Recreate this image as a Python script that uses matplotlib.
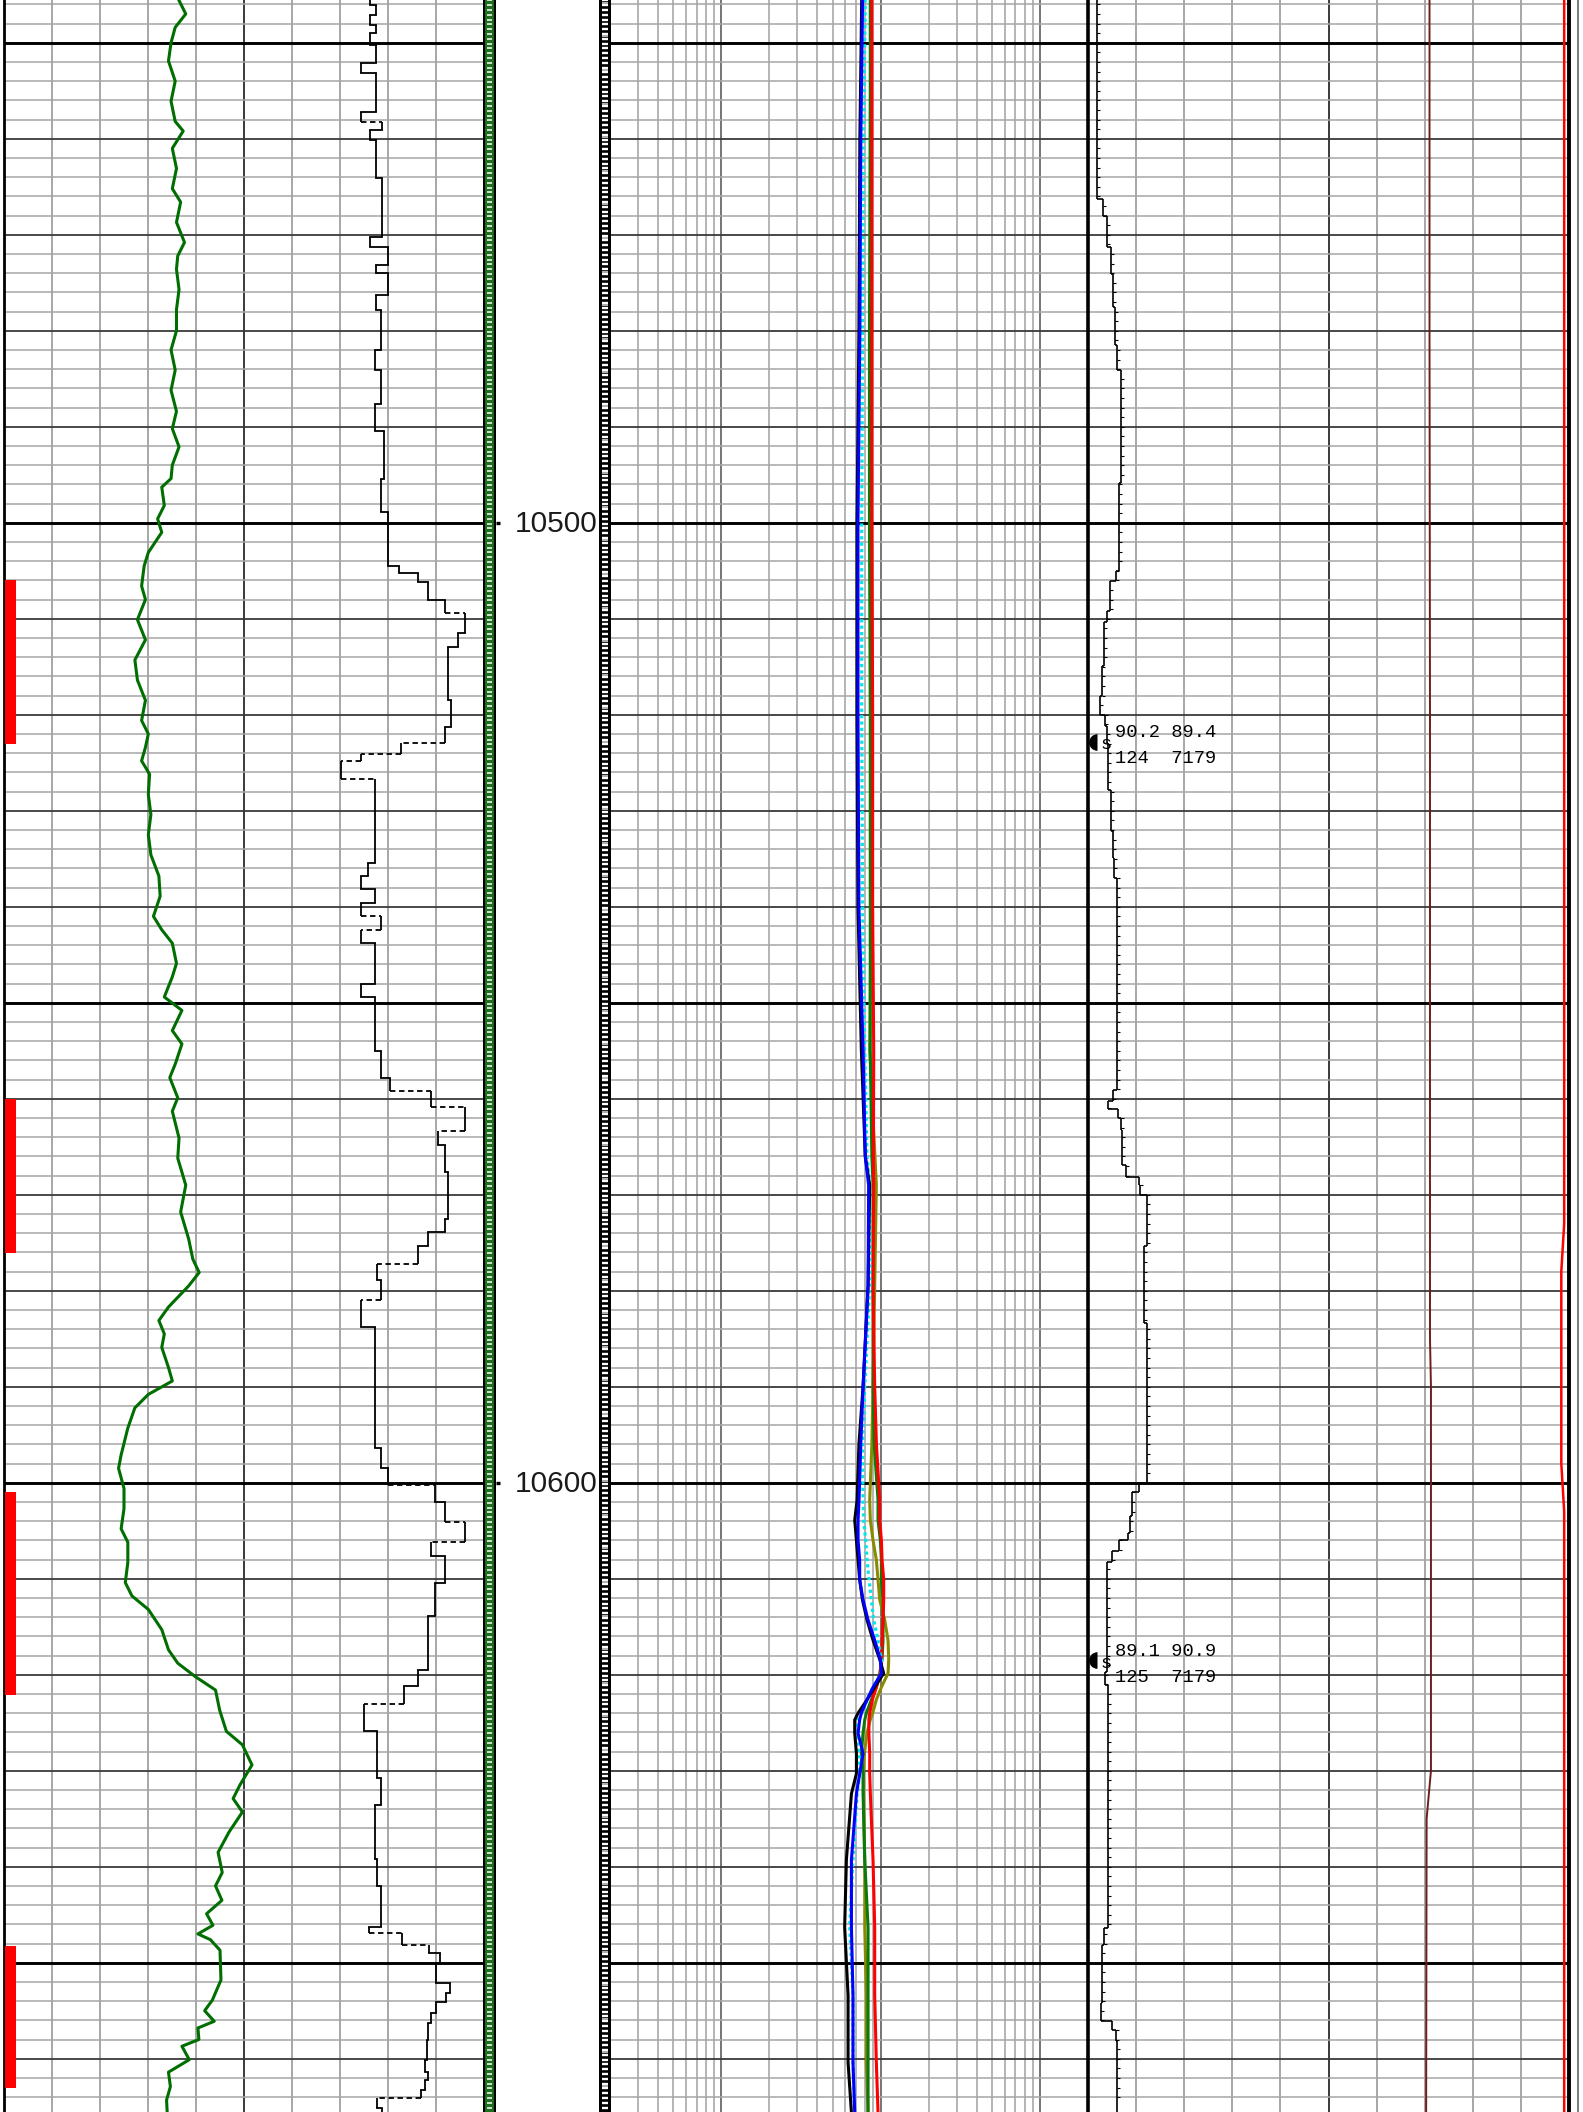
import numpy as np
import matplotlib
matplotlib.use("Agg")
import matplotlib.pyplot as plt
from matplotlib.collections import LineCollection
from matplotlib.lines import TICKRIGHT

# ---------------------------------------------------------------- data
TOP_DEPTH, BASE_DEPTH = 10445.55, 10665.55

# Track 1: gamma ray (API, scale 0-150)
gr_depth = [10445.6, 10447.0, 10448.4, 10450.0, 10451.9, 10454.0, 10456.1, 10458.2,
            10459.2, 10461.0, 10463.1, 10465.2, 10466.6, 10468.7, 10470.8, 10472.2,
            10473.6, 10475.7, 10477.8, 10480.0, 10482.0, 10484.1, 10486.2, 10488.4,
            10490.2, 10492.1, 10494.0, 10495.4, 10496.3, 10498.2, 10499.6, 10501.0,
            10503.1, 10504.5, 10506.6, 10508.0, 10510.1, 10512.2, 10514.3, 10516.4,
            10518.5, 10520.6, 10522.0, 10523.4, 10524.8, 10526.2, 10528.3, 10530.4,
            10532.5, 10534.6, 10536.8, 10538.9, 10541.0, 10542.4, 10543.8, 10545.9,
            10547.3, 10549.4, 10550.8, 10552.9, 10554.3, 10556.4, 10557.8, 10559.9,
            10561.3, 10564.1, 10566.2, 10569.0, 10571.8, 10574.6, 10576.7, 10578.1,
            10579.5, 10581.7, 10583.1, 10584.5, 10585.9, 10588.0, 10589.4, 10590.8,
            10592.2, 10594.3, 10597.1, 10598.5, 10600.6, 10602.7, 10604.8, 10606.2,
            10608.3, 10610.4, 10611.8, 10613.2, 10615.3, 10617.4, 10618.8, 10620.2,
            10621.6, 10623.7, 10625.9, 10627.3, 10629.4, 10631.5, 10632.9, 10634.3,
            10636.4, 10638.5, 10640.6, 10642.0, 10643.5, 10644.9, 10646.1, 10647.0,
            10647.6, 10648.7, 10651.8, 10653.9, 10655.0, 10656.1, 10656.8, 10658.0,
            10658.7, 10660.1, 10661.4, 10662.9, 10664.3, 10665.6]
gr_api = [54.7, 56.8, 53.5, 52.2, 51.4, 53.5, 52.2, 53.5,
          56.0, 52.6, 53.9, 52.6, 55.2, 53.9, 56.4, 54.3,
          53.9, 54.7, 53.9, 53.9, 52.2, 53.5, 52.2, 53.9,
          52.6, 54.7, 52.6, 52.2, 49.3, 50.1, 48.0, 49.3,
          45.1, 43.8, 43.0, 44.2, 41.7, 44.2, 40.9, 41.7,
          44.2, 43.0, 45.1, 44.2, 43.0, 45.5, 45.1, 45.9,
          45.1, 45.9, 48.4, 48.8, 46.7, 49.3, 52.6, 53.9,
          52.6, 50.1, 55.6, 52.6, 55.6, 53.5, 51.8, 54.3,
          52.6, 54.7, 54.3, 56.8, 55.2, 57.7, 59.0, 61.0,
          57.7, 51.4, 48.4, 50.1, 49.3, 51.4, 52.6, 45.1,
          40.9, 38.7, 36.6, 35.8, 37.5, 37.5, 36.6, 38.7,
          38.7, 37.9, 40.0, 45.1, 49.3, 51.4, 54.3, 59.8,
          66.1, 67.4, 69.5, 74.5, 77.5, 73.7, 71.6, 74.5,
          70.3, 66.9, 68.2, 66.1, 68.1, 63.3, 65.3, 60.6,
          64.5, 67.5, 67.8, 65.1, 62.7, 65.7, 60.6, 60.9,
          55.6, 57.9, 51.4, 52.0, 50.8, 51.0]

# Track 1: blocky curve (percent of track width), value holds from each top down
blk_top = [10445.55, 10446.1, 10447.1, 10448.2, 10449.0, 10450.2, 10452.1, 10453.2,
           10457.2, 10458.3, 10459.1, 10460.1, 10464.1, 10470.2, 10471.3, 10473.2,
           10474.0, 10476.3, 10477.8, 10482.0, 10484.1, 10487.6, 10490.4, 10495.4,
           10498.9, 10504.5, 10505.2, 10506.2, 10508.0, 10509.4, 10511.5, 10512.9,
           10518.5, 10521.3, 10522.9, 10524.1, 10524.8, 10526.7, 10535.4, 10536.8,
           10538.2, 10539.6, 10541.0, 10542.4, 10543.8, 10548.0, 10549.4, 10555.0,
           10557.8, 10559.2, 10560.9, 10563.4, 10564.8, 10567.6, 10572.5, 10573.9,
           10575.3, 10577.2, 10578.9, 10581.0, 10583.8, 10596.4, 10598.5, 10600.2,
           10602.0, 10604.1, 10606.2, 10607.6, 10610.4, 10613.9, 10619.5, 10621.2,
           10623.0, 10625.9, 10630.8, 10633.6, 10639.2, 10642.0, 10646.3, 10646.9,
           10648.2, 10649.0, 10650.0, 10652.1, 10653.2, 10654.1, 10655.2, 10656.3,
           10658.0, 10660.1, 10661.4, 10662.2, 10663.3, 10664.1, 10665.1]
blk_val = [76.3, 77.4, 76.3, 77.4, 76.3, 77.4, 74.3, 77.4,
           74.3, 78.7, 76.3, 77.4, 78.7, 76.3, 79.9, 77.4,
           79.9, 77.4, 78.6, 77.2, 78.6, 77.2, 79.1, 78.6,
           80.0, 82.2, 86.2, 88.4, 91.8, 96.0, 94.6, 92.6,
           93.2, 91.8, 82.8, 74.4, 70.2, 77.2, 75.8, 74.4,
           77.2, 74.4, 78.6, 74.4, 77.2, 74.4, 77.2, 78.6,
           80.5, 89.0, 96.0, 90.4, 91.8, 92.6, 91.8, 88.4,
           86.2, 77.7, 78.6, 74.4, 77.2, 78.6, 80.0, 89.8,
           91.8, 96.0, 89.0, 91.8, 89.8, 88.4, 86.2, 83.3,
           75.0, 77.7, 78.6, 77.2, 77.7, 78.6, 76.1, 82.9,
           88.5, 90.8, 90.1, 92.9, 92.0, 89.9, 88.9, 88.3,
           88.1, 87.7, 88.3, 87.8, 86.9, 77.7, 78.8]

# Perforated intervals (ft)
perf_top = [10506.0, 10560.0, 10601.0, 10648.3]
perf_base = [10523.0, 10576.1, 10622.1, 10663.1]

# Track 2: resistivity curves (ohm.m, log scale 0.2-200)
res_depth = [10445.5, 10460.0, 10480.0, 10500.0, 10520.0, 10540.0, 10554.9, 10566.0,
             10569.0, 10579.5, 10590.0, 10596.0, 10601.8, 10603.9, 10606.0, 10608.05,
             10610.1, 10612.2, 10614.3, 10616.4, 10618.4, 10619.85, 10621.3, 10622.6,
             10624.0, 10624.7, 10626.1, 10628.2, 10630.3, 10632.4, 10639.3, 10646.3,
             10653.4, 10660.4, 10665.6]
res_black = [7.6, 7.4, 7.3, 7.1, 7.1, 7.2, 7.56, 8.0,
             8.53, 8.33, 7.75, 7.3, 7.11, 6.87, 7.04, 7.21,
             7.38, 7.68, 8.21, 8.95, 9.86, 10.44, 9.17, 8.21,
             7.21, 6.87, 6.87, 7.04, 7.04, 6.55, 6.09, 5.94,
             6.24, 6.24, 6.55]
res_blue = [7.7, 7.5, 7.4, 7.2, 7.2, 7.3, 7.75, 8.0,
            8.4, 8.33, 7.75, 7.5, 7.31, 7.21, 7.21, 7.38,
            7.38, 7.75, 8.33, 9.17, 9.95, 10.10, 8.95, 8.21,
            7.56, 7.38, 7.21, 7.75, 7.38, 7.04, 6.55, 6.55,
            6.70, 6.70, 6.87]
res_cyan = [8.0, 7.8, 7.7, 7.6, 7.6, 7.7, 7.94, 8.2,
            8.53, 8.53, 7.94, 7.7, 7.75, 7.82, 8.05, 8.21,
            8.45, 8.74, 9.04, 9.62, 10.10, 10.10, 8.95, 8.21,
            7.56, 7.21, 6.97, 7.31, 7.38, 7.11, 6.70, 6.39,
            6.70, 6.70, 6.87]
res_green = [8.6, 8.6, 8.5, 8.5, 8.6, 8.6, 8.6, 8.8,
             8.95, 8.95, 8.95, 9.1, 9.62, 9.62, 9.95, 10.10,
             10.10, 10.34, 10.34, 10.34, 10.2, 9.86, 9.39, 8.74,
             8.13, 7.94, 7.75, 7.56, 7.75, 7.75, 7.94, 8.33,
             8.33, 8.33, 8.33]
res_olive = [8.7, 8.6, 8.6, 8.6, 8.7, 8.7, 8.53, 9.2,
             9.39, 9.17, 8.95, 8.8, 8.53, 8.61, 8.95, 9.39,
             9.62, 9.86, 10.6, 11.12, 11.23, 11.12, 10.10, 9.39,
             8.9, 8.6, 8.2, 7.9, 7.8, 7.8, 7.94, 7.94,
             8.13, 8.13, 8.33]
res_red = [8.8, 8.8, 8.8, 8.8, 8.9, 8.9, 9.04, 9.0,
           9.04, 8.95, 9.17, 9.4, 9.86, 9.86, 10.10, 10.2,
           10.44, 10.44, 10.34, 10.2, 10.10, 9.95, 9.39, 8.87,
           8.53, 8.43, 8.43, 8.53, 8.53, 8.61, 8.95, 9.17,
           9.17, 9.39, 9.62]

# Track 3: blocky curve (scale 0-100), value holds from each top down
t3_top = [10445.55, 10466.3, 10468.1, 10471.3, 10474.1, 10477.5, 10481.5, 10484.1,
          10495.9, 10505.0, 10506.1, 10509.2, 10510.3, 10514.9, 10518.1, 10520.0,
          10521.2, 10522.9, 10527.8, 10532.1, 10534.9, 10537.0, 10559.1, 10560.2,
          10561.1, 10562.0, 10563.3, 10566.9, 10568.2, 10569.0, 10570.0, 10575.3,
          10583.4, 10600.0, 10601.0, 10603.5, 10605.2, 10606.0, 10607.1, 10608.3,
          10619.7, 10621.1, 10646.4, 10648.2, 10654.2, 10656.1, 10657.0, 10658.2]
t3_val = [1.9, 3.2, 3.9, 4.7, 5.3, 5.6, 6.0, 6.8,
          6.5, 5.8, 4.6, 3.9, 3.3, 2.9, 2.5, 3.5,
          3.9, 4.2, 4.7, 5.1, 5.4, 6.1, 5.1, 4.2,
          6.3, 6.8, 7.0, 8.0, 10.5, 10.8, 12.3, 11.6,
          12.3, 10.7, 9.1, 8.7, 8.4, 6.5, 4.9, 4.0,
          3.5, 4.2, 3.3, 2.9, 2.6, 4.9, 5.8, 6.1]

# Track 3: two near-constant curves (scale 0-100)
brown_depth = [10445.5, 10480.0, 10520.0, 10585.0, 10590.0, 10630.0, 10635.0, 10665.6]
brown_val = [71.0, 71.0, 71.1, 71.1, 71.3, 71.3, 70.4, 70.3]
red3_depth = [10445.5, 10573.0, 10578.0, 10598.0, 10603.0, 10665.6]
red3_val = [99.0, 99.0, 98.4, 98.4, 99.0, 99.0]

# Formation pressure tests
test_depth = [10522.8, 10618.45]
test_line1 = ["90.2 89.4", "89.1 90.9"]
test_line2 = ["124  7179", "125  7179"]

depth_labels = [10500, 10600]

# ---------------------------------------------------------------- layout
W, H, DPI = 1583, 2112, 100
T1 = (4, 484)        # track 1 pixel span
STRIP_G = (483, 496)
DEPTH = (496, 599)
STRIP_K = (599, 611)
T2 = (610, 1088)
T3 = (1088, 1569)

MINOR_C, MID_C = "#a6a6a6", "#3a3a3a"
CURVE_LW = 2.2

fig = plt.figure(figsize=(W / DPI, H / DPI), dpi=DPI)
fig.patch.set_facecolor("white")


def make_axes(span, zorder=1):
    x0, x1 = span
    ax = fig.add_axes([x0 / W, 0, (x1 - x0) / W, 1], zorder=zorder)
    ax.set_ylim(BASE_DEPTH, TOP_DEPTH)
    ax.set_axis_off()
    return ax


grid_depths = np.arange(10446, 10666, 2)


def depth_grid(ax, x0, x1):
    for d in grid_depths:
        if d % 50 == 0:
            ax.hlines(d, x0, x1, color="black", lw=2.1, zorder=2)
        elif d % 10 == 0:
            ax.hlines(d, x0, x1, color=MID_C, lw=1.3, zorder=1.5)
        else:
            ax.hlines(d, x0, x1, color=MINOR_C, lw=1.1, zorder=1)


def step_segments(tops, vals, base):
    bounds = list(tops[1:]) + [base]
    vert = [((v, t), (v, b)) for v, t, b in zip(vals, tops, bounds)]
    horiz = [((vals[i - 1], tops[i]), (vals[i], tops[i])) for i in range(1, len(vals))]
    return vert, horiz


# ---------------------------------------------------------------- track 1
ax1 = make_axes(T1)
ax1.set_xlim(0, 150)
for v in np.arange(15, 150, 15):
    ax1.axvline(v, color=MID_C if v == 75 else "#8f8f8f", lw=1.4 if v == 75 else 1.1, zorder=1)
depth_grid(ax1, 0, 150)
ax1.axvline(0, color="black", lw=2.0, zorder=3, clip_on=False)

for t, b in zip(perf_top, perf_base):
    ax1.fill_betweenx([t, b], 0.2, 3.7, color="#ff0000", lw=0, zorder=4)

ax1.plot(gr_api, gr_depth, color="#006e00", lw=CURVE_LW, zorder=5)

ax1b = make_axes(T1, zorder=2)
ax1b.set_xlim(0, 100)
vert, horiz = step_segments(blk_top, blk_val, BASE_DEPTH)
ax1b.add_collection(LineCollection(vert, colors="black", linewidths=1.3))
for seg in horiz:
    (a, d), (b, _) = seg
    if abs(b - a) > 4.0:
        ax1b.plot([a, b], [d, d], color="black", lw=1.3, dashes=(3.0, 2.0))
    else:
        ax1b.plot([a, b], [d, d], color="black", lw=1.3)

# ---------------------------------------------------------------- strips
tick_d = np.arange(10445.6, 10665.6, 0.5)

axg = make_axes(STRIP_G, zorder=3)
axg.set_xlim(0, 1)
axg.fill_betweenx([TOP_DEPTH, BASE_DEPTH], 0, 1, color="#1f6e1f", lw=0)
axg.hlines(tick_d, 0.33, 0.67, color="white", lw=1.1)
axg.axvline(0.07, color="black", lw=1.5)
axg.axvline(0.93, color="black", lw=1.5)

axk = make_axes(STRIP_K, zorder=3)
axk.set_xlim(0, 1)
axk.fill_betweenx([TOP_DEPTH, BASE_DEPTH], 0, 1, color="black", lw=0)
axk.hlines(tick_d, 0.22, 0.78, color="white", lw=1.7)
axk.hlines(tick_d[::7] + 0.25, 0.22, 0.78, color="#b4b4b4", lw=1.4)

# ---------------------------------------------------------------- depth track
axd = make_axes(DEPTH, zorder=3)
axd.set_xlim(0, 1)
for d in depth_labels:
    axd.hlines(d, 0.0, 0.035, color="black", lw=2.4)
    axd.text(0.985, d + 0.95, f"{d}", ha="right", va="baseline",
             fontsize=21.5, family="Liberation Sans", color="#1a1a1a")

# ---------------------------------------------------------------- track 2
ax2 = make_axes(T2)
ax2.set_xscale("log")
ax2.set_xlim(0.2, 200)
for dec in [0.1, 1, 10, 100]:
    for m in range(2, 10):
        v = dec * m
        if 0.2 < v < 200:
            ax2.axvline(v, color="#a0a0a0", lw=1.1, zorder=1)
for v in [1, 10, 100]:
    ax2.axvline(v, color="#6a6a6a", lw=1.3, zorder=1)
depth_grid(ax2, 0.2, 200)

ax2.plot(res_olive, res_depth, color="#8a8a00", lw=CURVE_LW, zorder=5)
ax2.plot(res_green, res_depth, color="#0b7a0b", lw=CURVE_LW, zorder=5)
ax2.plot(res_red, res_depth, color="#ff0000", lw=CURVE_LW, zorder=6)
ax2.plot(res_cyan, res_depth, color="#00e8e8", lw=2.3, dashes=(1.0, 1.0), zorder=6)
ax2.plot(res_black, res_depth, color="black", lw=CURVE_LW, zorder=7)
ax2.plot(res_blue, res_depth, color="#0000ff", lw=CURVE_LW, zorder=8)

# ---------------------------------------------------------------- track 3
ax3 = make_axes(T3)
ax3.set_xlim(0, 100)
for v in np.arange(10, 100, 10):
    ax3.axvline(v, color=MID_C if v == 50 else "#8f8f8f", lw=1.4 if v == 50 else 1.1, zorder=1)
depth_grid(ax3, 0, 100)
ax3.axvline(0, color="black", lw=2.6, zorder=9, clip_on=False)
ax3.axvline(100, color="black", lw=2.8, zorder=9, clip_on=False)
ax3.axvline(101.9, color="#7a7a7a", lw=1.4, zorder=9, clip_on=False)

ax3.plot(brown_val, brown_depth, color="#6e1c1c", lw=1.4, zorder=5)
ax3.plot(red3_val, red3_depth, color="#ff0000", lw=1.8, zorder=5)

vert, horiz = step_segments(t3_top, t3_val, BASE_DEPTH)
ax3.add_collection(LineCollection(vert + horiz, colors="black", linewidths=1.2, zorder=6))
tick_depths = np.arange(10446.0, 10665.0, 1.0)
tick_vals = [t3_val[np.searchsorted(t3_top, d, side="right") - 1] for d in tick_depths]
ax3.plot(tick_vals, tick_depths, ls="none", marker=TICKRIGHT, ms=2.5, mew=0.8,
         color="black", zorder=6)

for d, l1, l2 in zip(test_depth, test_line1, test_line2):
    ax3.plot([1.9], [d], marker="o", ms=12, fillstyle="left", markerfacecoloralt="none",
             mec="none", color="black", zorder=10, clip_on=False)
    ax3.text(2.7, d + 0.35, "s", fontsize=13.5, family="Liberation Mono",
             ha="left", va="center", zorder=10)
    ax3.text(5.6, d - 0.9, l1, fontsize=13.5, family="Liberation Mono",
             ha="left", va="center", zorder=10)
    ax3.text(5.6, d + 1.8, l2, fontsize=13.5, family="Liberation Mono",
             ha="left", va="center", zorder=10)

fig.savefig("out.png", dpi=DPI, facecolor="white")
